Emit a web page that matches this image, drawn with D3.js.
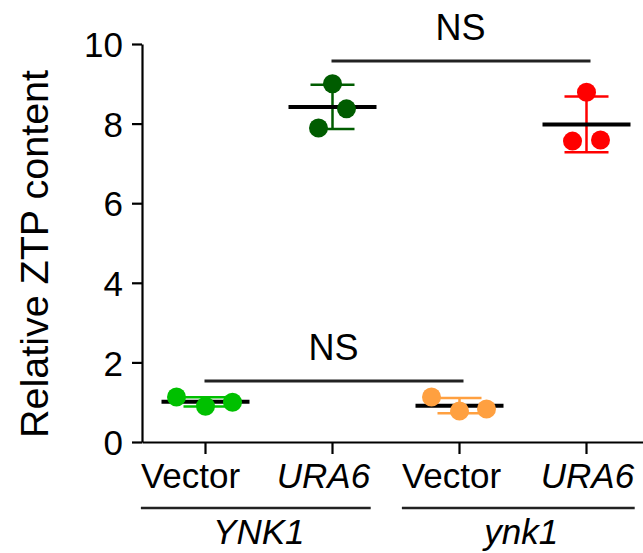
<!DOCTYPE html>
<html>
<head>
<meta charset="utf-8">
<script src="https://cdn.jsdelivr.net/npm/d3@7"></script>
<style>
  body { margin: 0; background: #fff; }
  text { font-family: "Liberation Sans", Arial, sans-serif; fill: #000; }
</style>
</head>
<body>
<svg id="chart" width="643" height="553"></svg>
<script>
const categories = ["YNK1 Vector", "YNK1 URA6", "ynk1 Vector", "ynk1 URA6"]
const tickLabels = ["Vector", "URA6", "Vector", "URA6"]
const groups = ["YNK1", "ynk1"]
const values = [
    [1.13, 0.90, 1.00],
    [9.00, 8.37, 7.89],
    [1.13, 0.78, 0.83],
    [8.79, 7.56, 7.59]
]
const yTicks = [0, 2, 4, 6, 8, 10]
const comparisons = [
    {from: "YNK1 URA6", to: "ynk1 URA6", level: 9.57, label: "NS"},
    {from: "YNK1 Vector", to: "ynk1 Vector", level: 1.53, label: "NS"}
]

// styling / layout
const colors = ["#00c000", "#005c00", "#ffa040", "#ff0000"]
const jitter = [[-29, 0, 27], [0, 14, -14], [-28, 0, 27], [0, -14, 14]]
const labelShift = [-15, -9, -8, 1]
const italic = [false, true, false, true]

const svg = d3.select("#chart")
const x = d3.scaleBand().domain(categories).range([142, 650])
const y = d3.scaleLinear().domain([0, 10]).range([442, 44])
const cx = c => x(c) + x.bandwidth() / 2

// axes
const yAxis = svg.append("g")
    .attr("transform", "translate(142,0)")
    .call(d3.axisLeft(y).tickValues(yTicks).tickSize(10).tickSizeOuter(0).tickPadding(9))
yAxis.selectAll("text").style("font-size", "35px").attr("dy", "0.36em")

svg.append("g")
    .attr("transform", "translate(0,442)")
    .call(d3.axisBottom(x).tickSize(12).tickSizeOuter(0).tickFormat(""))

svg.selectAll(".domain, .tick line").attr("stroke", "#000").attr("stroke-width", 2.2)

// category labels
const catLabels = svg.append("g").selectAll("text")
    .data(categories)
    .join("text")
    .attr("x", (d, i) => cx(d) + labelShift[i])
    .attr("y", 488)
    .attr("text-anchor", "middle")
    .style("font-size", "35px")
    .style("font-style", (d, i) => italic[i] ? "italic" : "normal")
    .text((d, i) => tickLabels[i])

// group lines span the two labels underneath
const boxes = catLabels.nodes().map(n => n.getBBox())
const groupInfo = groups.map((g, i) => ({
    name: g,
    a: boxes[i * 2].x,
    b: boxes[i * 2 + 1].x + boxes[i * 2 + 1].width
}))
svg.append("g").selectAll("line")
    .data(groupInfo)
    .join("line")
    .attr("x1", d => d.a)
    .attr("x2", d => d.b)
    .attr("y1", 508).attr("y2", 508)
    .attr("stroke", "#222").attr("stroke-width", 2.5)
svg.append("g").selectAll("text")
    .data(groupInfo)
    .join("text")
    .attr("x", d => (d.a + d.b) / 2 + 3)
    .attr("y", 544)
    .attr("text-anchor", "middle")
    .style("font-size", "35px")
    .style("font-style", "italic")
    .text(d => d.name)

// stats per group
const stats = values.map(v => ({mean: d3.mean(v), sd: d3.deviation(v)}))

const marks = svg.append("g")
categories.forEach((c, i) => {
    const g = marks.append("g")
    const xc = cx(c)
    const s = stats[i]
    // error bar
    g.append("line")
        .attr("x1", xc).attr("x2", xc)
        .attr("y1", y(s.mean + s.sd)).attr("y2", y(s.mean - s.sd))
        .attr("stroke", colors[i]).attr("stroke-width", 2.5)
    ;[s.mean + s.sd, s.mean - s.sd].forEach(v => {
        g.append("line")
            .attr("x1", xc - 22).attr("x2", xc + 22)
            .attr("y1", y(v)).attr("y2", y(v))
            .attr("stroke", colors[i]).attr("stroke-width", 2.5)
    })
    // mean
    g.append("line")
        .attr("x1", xc - 44).attr("x2", xc + 44)
        .attr("y1", y(s.mean)).attr("y2", y(s.mean))
        .attr("stroke", "#000").attr("stroke-width", 4)
    // points
    g.selectAll("circle")
        .data(values[i])
        .join("circle")
        .attr("cx", (d, j) => xc + jitter[i][j])
        .attr("cy", d => y(d))
        .attr("r", 9.5)
        .attr("fill", colors[i])
})

// significance brackets
const sig = svg.append("g")
sig.selectAll("line")
    .data(comparisons)
    .join("line")
    .attr("x1", d => cx(d.from) - 1)
    .attr("x2", d => cx(d.to) + 4)
    .attr("y1", d => y(d.level)).attr("y2", d => y(d.level))
    .attr("stroke", "#222").attr("stroke-width", 3)
sig.selectAll("text")
    .data(comparisons)
    .join("text")
    .attr("x", d => (cx(d.from) + cx(d.to)) / 2 + 1)
    .attr("y", d => y(d.level) - 21)
    .attr("text-anchor", "middle")
    .style("font-size", "36px")
    .text(d => d.label)

// y label
svg.append("text")
    .attr("transform", "translate(48,254) rotate(-90)")
    .attr("text-anchor", "middle")
    .style("font-size", "39.5px")
    .text("Relative ZTP content")
</script>
</body>
</html>
